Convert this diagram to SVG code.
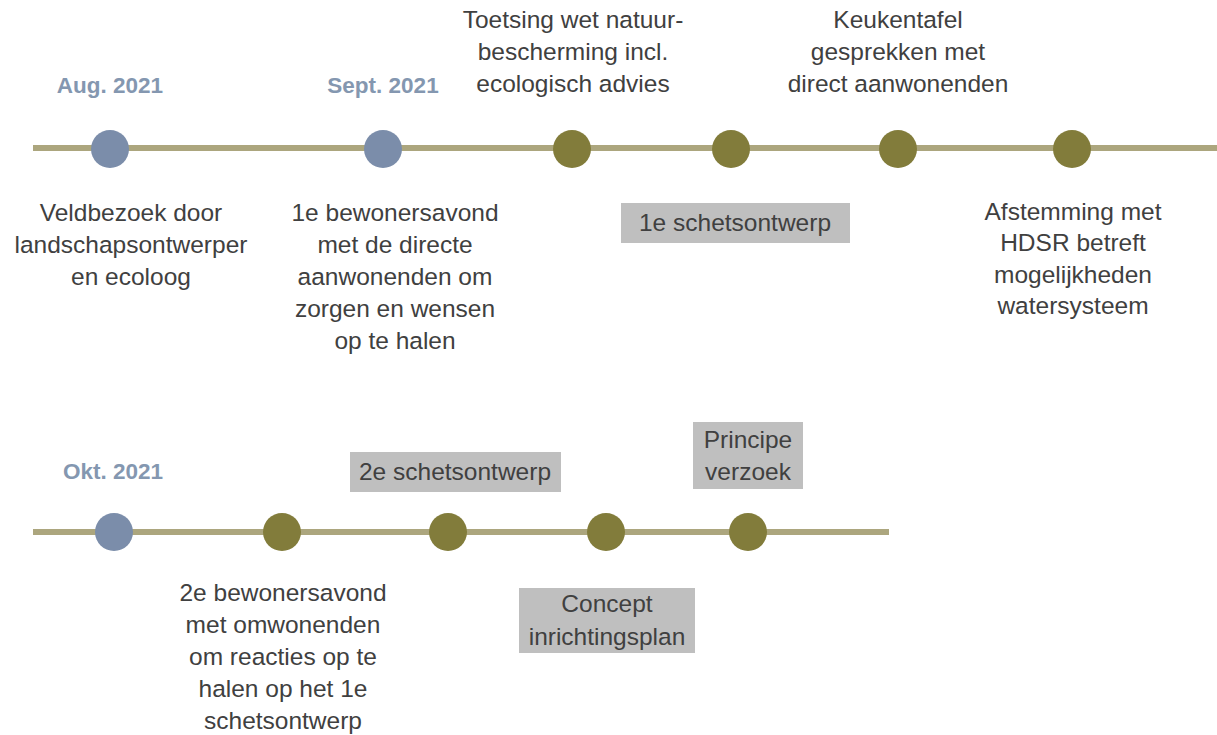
<svg xmlns="http://www.w3.org/2000/svg" width="1217" height="735" viewBox="0 0 1217 735">
<style>
  .line{stroke:#aca67e;stroke-width:6;fill:none}
  .blue{fill:#7b8daa}
  .olive{fill:#827c3b}
  .date{font-family:"Liberation Sans",Arial,sans-serif;font-size:22.5px;font-weight:bold;fill:#8497b0;text-anchor:middle}
  .t{font-family:"Liberation Sans",Arial,sans-serif;font-size:24.5px;fill:#404040;text-anchor:middle}
  .box{fill:#bfbfbf}
</style>
<rect width="1217" height="735" fill="#ffffff"/>
<g id="connectors">
  <line class="line" x1="33" y1="148" x2="1217" y2="148"/>
  <line class="line" x1="33" y1="532" x2="889" y2="532"/>
</g>
<g id="aug">
  <text class="date" x="110" y="93">Aug. 2021</text>
  <circle class="blue" cx="110" cy="149" r="19"/>
  <text class="t" x="131" y="221">Veldbezoek door</text>
  <text class="t" x="131" y="253">landschapsontwerper</text>
  <text class="t" x="131" y="285">en ecoloog</text>
</g>
<g id="sept">
  <text class="date" x="383" y="93">Sept. 2021</text>
  <circle class="blue" cx="383" cy="149" r="19"/>
  <text class="t" x="395" y="221">1e bewonersavond</text>
  <text class="t" x="395" y="253">met de directe</text>
  <text class="t" x="395" y="285">aanwonenden om</text>
  <text class="t" x="395" y="317">zorgen en wensen</text>
  <text class="t" x="395" y="349">op te halen</text>
</g>
<g id="toetsing">
  <text class="t" x="573" y="28">Toetsing wet natuur-</text>
  <text class="t" x="573" y="60">bescherming incl.</text>
  <text class="t" x="573" y="92">ecologisch advies</text>
  <circle class="olive" cx="572" cy="149" r="19"/>
</g>
<g id="schets1">
  <circle class="olive" cx="731" cy="149" r="19"/>
  <rect class="box" x="621" y="203" width="229" height="40"/>
  <text class="t" x="735" y="231">1e schetsontwerp</text>
</g>
<g id="keukentafel">
  <text class="t" x="898" y="28">Keukentafel</text>
  <text class="t" x="898" y="60">gesprekken met</text>
  <text class="t" x="898" y="92">direct aanwonenden</text>
  <circle class="olive" cx="898" cy="149" r="19"/>
</g>
<g id="afstemming">
  <circle class="olive" cx="1072" cy="149" r="19"/>
  <text class="t" x="1073" y="220">Afstemming met</text>
  <text class="t" x="1073" y="251">HDSR betreft</text>
  <text class="t" x="1073" y="283">mogelijkheden</text>
  <text class="t" x="1073" y="314">watersysteem</text>
</g>
<g id="okt">
  <text class="date" x="113" y="479">Okt. 2021</text>
  <circle class="blue" cx="114" cy="532" r="19"/>
</g>
<g id="bewoners2">
  <circle class="olive" cx="282" cy="532" r="19"/>
  <text class="t" x="283" y="601">2e bewonersavond</text>
  <text class="t" x="283" y="633">met omwonenden</text>
  <text class="t" x="283" y="665">om reacties op te</text>
  <text class="t" x="283" y="697">halen op het 1e</text>
  <text class="t" x="283" y="729">schetsontwerp</text>
</g>
<g id="schets2">
  <rect class="box" x="350" y="452" width="211" height="40"/>
  <text class="t" x="455" y="480">2e schetsontwerp</text>
  <circle class="olive" cx="448" cy="532" r="19"/>
</g>
<g id="concept">
  <circle class="olive" cx="606" cy="532" r="19"/>
  <rect class="box" x="519" y="588" width="176" height="65"/>
  <text class="t" x="607" y="612">Concept</text>
  <text class="t" x="607" y="645">inrichtingsplan</text>
</g>
<g id="principe">
  <rect class="box" x="693" y="422" width="110" height="67"/>
  <text class="t" x="748" y="448">Principe</text>
  <text class="t" x="748" y="480">verzoek</text>
  <circle class="olive" cx="748" cy="532" r="19"/>
</g>
</svg>
